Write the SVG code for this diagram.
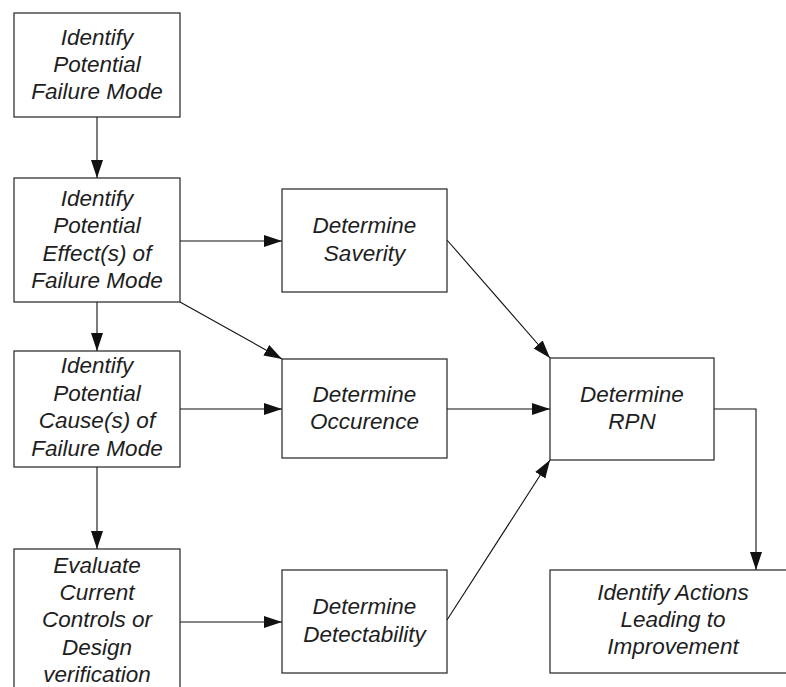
<svg xmlns="http://www.w3.org/2000/svg" width="786" height="687" viewBox="0 0 786 687">
<style>
.box{fill:none;stroke:#222;stroke-width:1.2}
.t{font-family:"Liberation Sans",Arial,sans-serif;font-style:italic;font-size:22.5px;fill:#1e1e1e;text-anchor:middle}
.c{fill:none;stroke:#111;stroke-width:1.1;marker-end:url(#ah)}
</style>
<defs>
<marker id="ah" markerUnits="userSpaceOnUse" markerWidth="19" markerHeight="13" refX="18" refY="6" orient="auto">
<path d="M0,0 L18,6 L0,12 z" fill="#111"/>
</marker>
</defs>
<rect width="786" height="687" fill="#fff"/>
<g id="connectors">
<path class="c" d="M97,117 L97,178"/>
<path class="c" d="M180,241 L282,241"/>
<path class="c" d="M97,302 L97,351"/>
<path class="c" d="M180,302 L282,359"/>
<path class="c" d="M180,409 L282,409"/>
<path class="c" d="M97,467 L97,549"/>
<path class="c" d="M180,622 L282,622"/>
<path class="c" d="M447,240 L550,358"/>
<path class="c" d="M447,409 L550,409"/>
<path class="c" d="M447,620 L550,460"/>
<path class="c" d="M714,409 L756,409 L756,570"/>
</g>
<g id="n1">
<rect class="box" x="14" y="13" width="166" height="104"/>
<text class="t" x="97"><tspan x="97" y="45">Identify</tspan><tspan x="97" y="72">Potential</tspan><tspan x="97" y="99">Failure Mode</tspan></text>
</g>
<g id="n2">
<rect class="box" x="14" y="178" width="166" height="124"/>
<text class="t"><tspan x="97" y="206">Identify</tspan><tspan x="97" y="233">Potential</tspan><tspan x="97" y="261">Effect(s) of</tspan><tspan x="97" y="288">Failure Mode</tspan></text>
</g>
<g id="n3">
<rect class="box" x="14" y="351" width="166" height="116"/>
<text class="t"><tspan x="97" y="373">Identify</tspan><tspan x="97" y="401">Potential</tspan><tspan x="97" y="428">Cause(s) of</tspan><tspan x="97" y="456">Failure Mode</tspan></text>
</g>
<g id="n4">
<rect class="box" x="14" y="549" width="166" height="160"/>
<text class="t"><tspan x="97" y="573">Evaluate</tspan><tspan x="97" y="600">Current</tspan><tspan x="97" y="627">Controls or</tspan><tspan x="97" y="655">Design</tspan><tspan x="97" y="682">verification</tspan></text>
</g>
<g id="n5">
<rect class="box" x="282" y="189" width="165" height="103"/>
<text class="t"><tspan x="364.5" y="233">Determine</tspan><tspan x="364.5" y="261">Saverity</tspan></text>
</g>
<g id="n6">
<rect class="box" x="282" y="359" width="165" height="99"/>
<text class="t"><tspan x="364.5" y="402">Determine</tspan><tspan x="364.5" y="429">Occurence</tspan></text>
</g>
<g id="n7">
<rect class="box" x="282" y="570" width="165" height="103"/>
<text class="t"><tspan x="364.5" y="614">Determine</tspan><tspan x="364.5" y="642">Detectability</tspan></text>
</g>
<g id="n8">
<rect class="box" x="550" y="358" width="164" height="102"/>
<text class="t"><tspan x="632" y="402">Determine</tspan><tspan x="632" y="429">RPN</tspan></text>
</g>
<g id="n9">
<rect class="box" x="550" y="570" width="246" height="103"/>
<text class="t"><tspan x="673" y="600">Identify Actions</tspan><tspan x="673" y="627">Leading to</tspan><tspan x="673" y="654">Improvement</tspan></text>
</g>
</svg>
